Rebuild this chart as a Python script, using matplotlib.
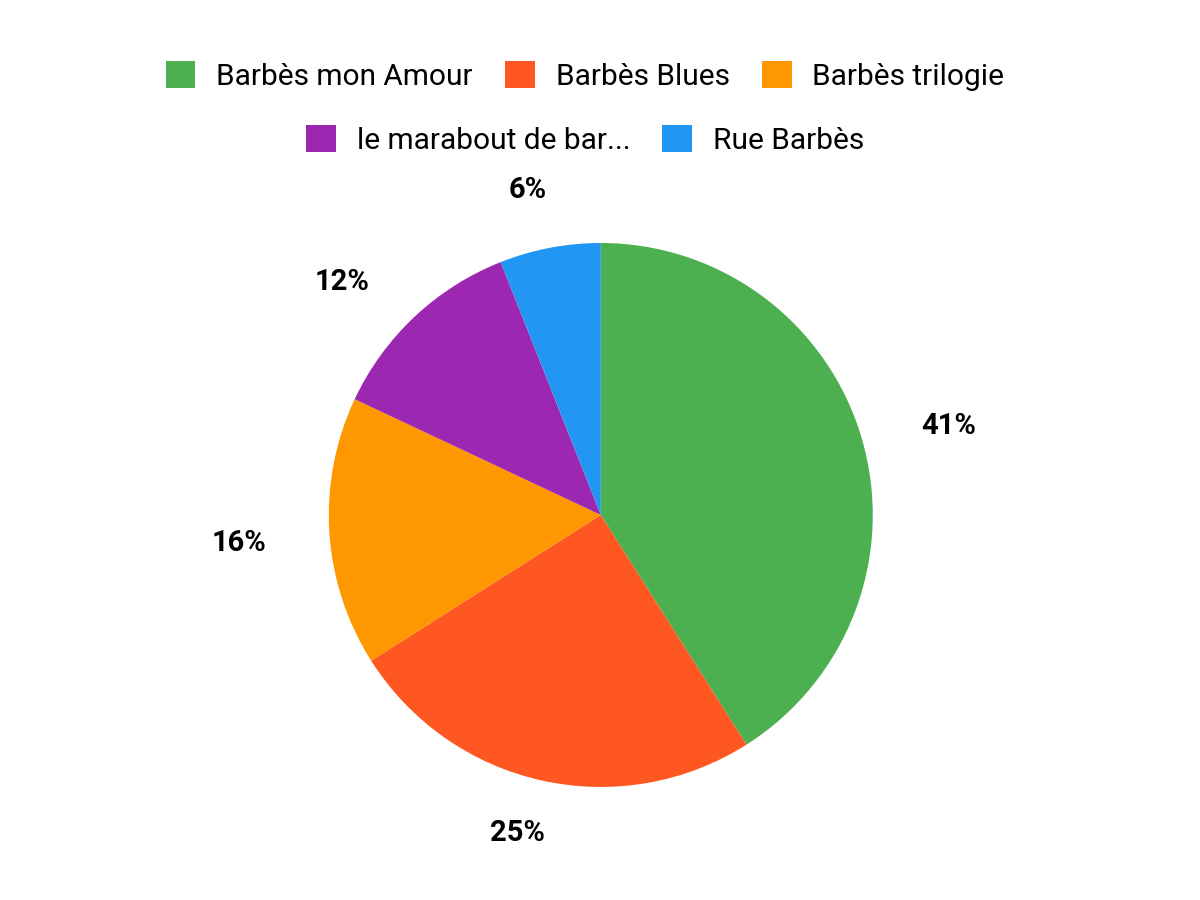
import numpy as np
import matplotlib.pyplot as plt

plt.rcParams['font.family'] = ['Roboto', 'DejaVu Sans']

labels = ["Barbès mon Amour", "Barbès Blues", "Barbès trilogie",
          "le marabout de bar...", "Rue Barbès"]
values = [41, 25, 16, 12, 6]
colors = ["#4CAF50", "#FF5722", "#FF9800", "#9C27B0", "#2196F3"]

# percentage label placement: distance in pie radii, angle nudge in degrees
label_dist = [1.32, 1.21, 1.335, 1.28, 1.225]
label_nudge = [-1.9, -2.0, 0.8, 4.7, 1.9]

fig = plt.figure(figsize=(12, 9), dpi=100)
ax = fig.add_axes([0.274, 0.1256, 0.4533, 0.6044])

wedges, texts, autotexts = ax.pie(
    values, colors=colors, startangle=90, counterclock=False,
    autopct="%d%%", pctdistance=1.27, radius=1,
    wedgeprops=dict(linewidth=0),
    textprops=dict(fontsize=21, fontweight="bold", color="#000000"))
ax.set_xlim(-1, 1)
ax.set_ylim(-1, 1)
ax.set_aspect("equal")
for w, t, d, n in zip(wedges, autotexts, label_dist, label_nudge):
    ang = np.deg2rad((w.theta1 + w.theta2) / 2 + n)
    t.set_position((d * np.cos(ang), d * np.sin(ang)))
    t.set_clip_on(False)

leg_kw = dict(frameon=False, fontsize=21.5, handlelength=1.0, handleheight=1.0,
              handletextpad=0.7, columnspacing=1.07, borderaxespad=0)
fig.legend(wedges[:3], labels[:3], ncol=3, loc="center",
           bbox_to_anchor=(0.4875, 1 - 76 / 900), **leg_kw)
fig.legend(wedges[3:], labels[3:], ncol=2, loc="center",
           bbox_to_anchor=(0.4875, 1 - 140 / 900), **leg_kw)

fig.savefig("out.png", dpi=100)
